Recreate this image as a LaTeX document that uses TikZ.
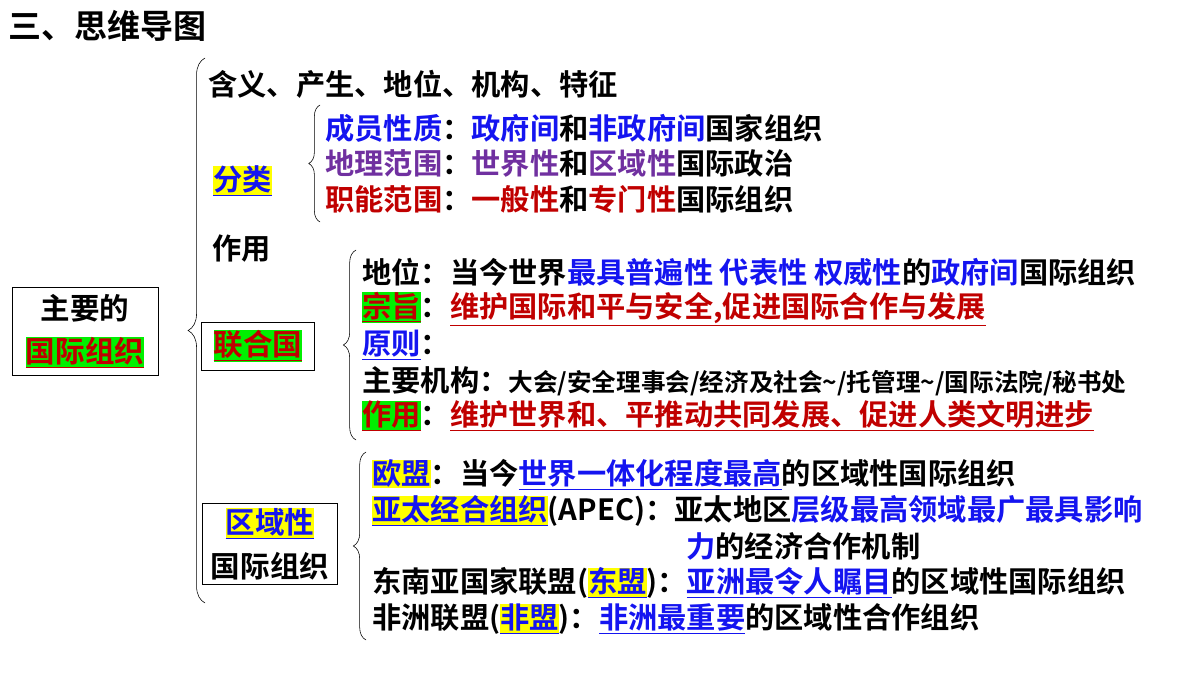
\documentclass[tikz,border=0pt]{standalone}
\usepackage{fontspec}
\usepackage{xcolor}
\usetikzlibrary{decorations.pathreplacing,positioning}
\setmainfont{Noto Sans CJK SC Bold}
\definecolor{hlblue}{RGB}{20,20,240}
\definecolor{hlpurple}{RGB}{112,48,160}
\definecolor{hlred}{RGB}{192,0,0}
\definecolor{hlgreen}{RGB}{0,240,0}
\definecolor{hlyellow}{RGB}{255,255,0}
\newcommand{\ul}[1]{\underline{#1}}
\newcommand{\bl}[1]{\textcolor{hlblue}{#1}}
\newcommand{\ubl}[1]{\textcolor{hlblue}{\ul{#1}}}
\newcommand{\urd}[1]{\textcolor{hlred}{\ul{#1}}}
\newcommand{\gbox}[1]{{\setlength{\fboxsep}{0pt}\colorbox{hlgreen}{#1}}}
\newcommand{\ybox}[1]{{\setlength{\fboxsep}{0pt}\colorbox{hlyellow}{#1}}}
\tikzset{
  line/.style={anchor=west,inner sep=0pt,font=\fontsize{20.8}{22}\selectfont},
  boxnode/.style={draw,thin,align=center,font=\fontsize{21}{31}\selectfont},
  curly/.style={decorate,decoration={brace,amplitude=#1,mirror},thin}
}
\begin{document}
\begin{tikzpicture}[x=0.025cm,y=-0.025cm]
  \useasboundingbox (0,0) rectangle (1200,675);
  \node[line] (title) at (8,26) {\fontsize{23.5}{26}\selectfont 三、思维导图};
  % root
  \node[boxnode,minimum width=146*0.025cm,minimum height=88*0.025cm] (root) at (85,331)
    {主要的\\\gbox{\urd{国际组织}}};
  \draw[curly=12pt] (205,58) -- (205,603);
  \node[line] (meaning) at (208,84) {含义、产生、地位、机构、特征};
  \node[line] (kind) at (213,181) {\ybox{\ubl{分类}}};
  \draw[curly=8pt] (320,105) -- (320,222);
  \node[line] (k1) at (325,128) {\bl{成员性质}：\bl{政府间}和\bl{非政府间}国家组织};
  \node[line] (k2) at (325,163) {\textcolor{hlpurple}{地理范围}：\textcolor{hlpurple}{世界性}和\textcolor{hlpurple}{区域性}国际政治};
  \node[line] (k3) at (325,199) {\textcolor{hlred}{职能范围}：\textcolor{hlred}{一般性}和\textcolor{hlred}{专门性}国际组织};
  \node[line] (role) at (212,249) {作用};
  % united nations
  \node[boxnode,minimum width=113*0.025cm,minimum height=48*0.025cm] (un) at (258,346)
    {\gbox{\urd{联合国}}};
  \draw[curly=9pt] (356,250) -- (356,440);
  \node[line] (u1) at (362,272) {地位：当今世界\bl{最具普遍性 代表性 权威性}的\bl{政府间}国际组织};
  \node[line] (u2) at (362,309) {\gbox{\urd{宗旨}}：\urd{维护国际和平与安全,促进国际合作与发展}};
  \node[line] (u3) at (362,345) {\ubl{原则}：};
  \node[line] (u4) at (362,381) {主要机构：{\fontsize{17.5}{19}\selectfont 大会/安全理事会/经济及社会\textasciitilde/托管理\textasciitilde/国际法院/秘书处}};
  \node[line] (u5) at (362,416) {\gbox{\urd{作用}}：\urd{维护世界和、平推动共同发展、促进人类文明进步}};
  % regional
  \node[boxnode,minimum width=135*0.025cm,minimum height=78*0.025cm] (reg) at (270,544)
    {\ybox{\ubl{区域性}}\\国际组织};
  \draw[curly=9pt] (366,452) -- (366,640);
  \node[line] (r1) at (372,475) {\ybox{\bl{欧盟}}：当今\ubl{世界一体化程度最高}的区域性国际组织};
  \node[line] (r2) at (372,511) {\ybox{\ubl{亚太经合组织}}(APEC)：亚太地区\bl{层级最高领域最广最具影响}};
  \node[line] (r3) at (686,546) {\bl{力}的经济合作机制};
  \node[line] (r4) at (372,583) {东南亚国家联盟(\ybox{\ubl{东盟}})：\ubl{亚洲最令人瞩目}的区域性国际组织};
  \node[line] (r5) at (372,619) {非洲联盟(\ybox{\ubl{非盟}})：\ubl{非洲最重要}的区域性合作组织};
\end{tikzpicture}
\end{document}
